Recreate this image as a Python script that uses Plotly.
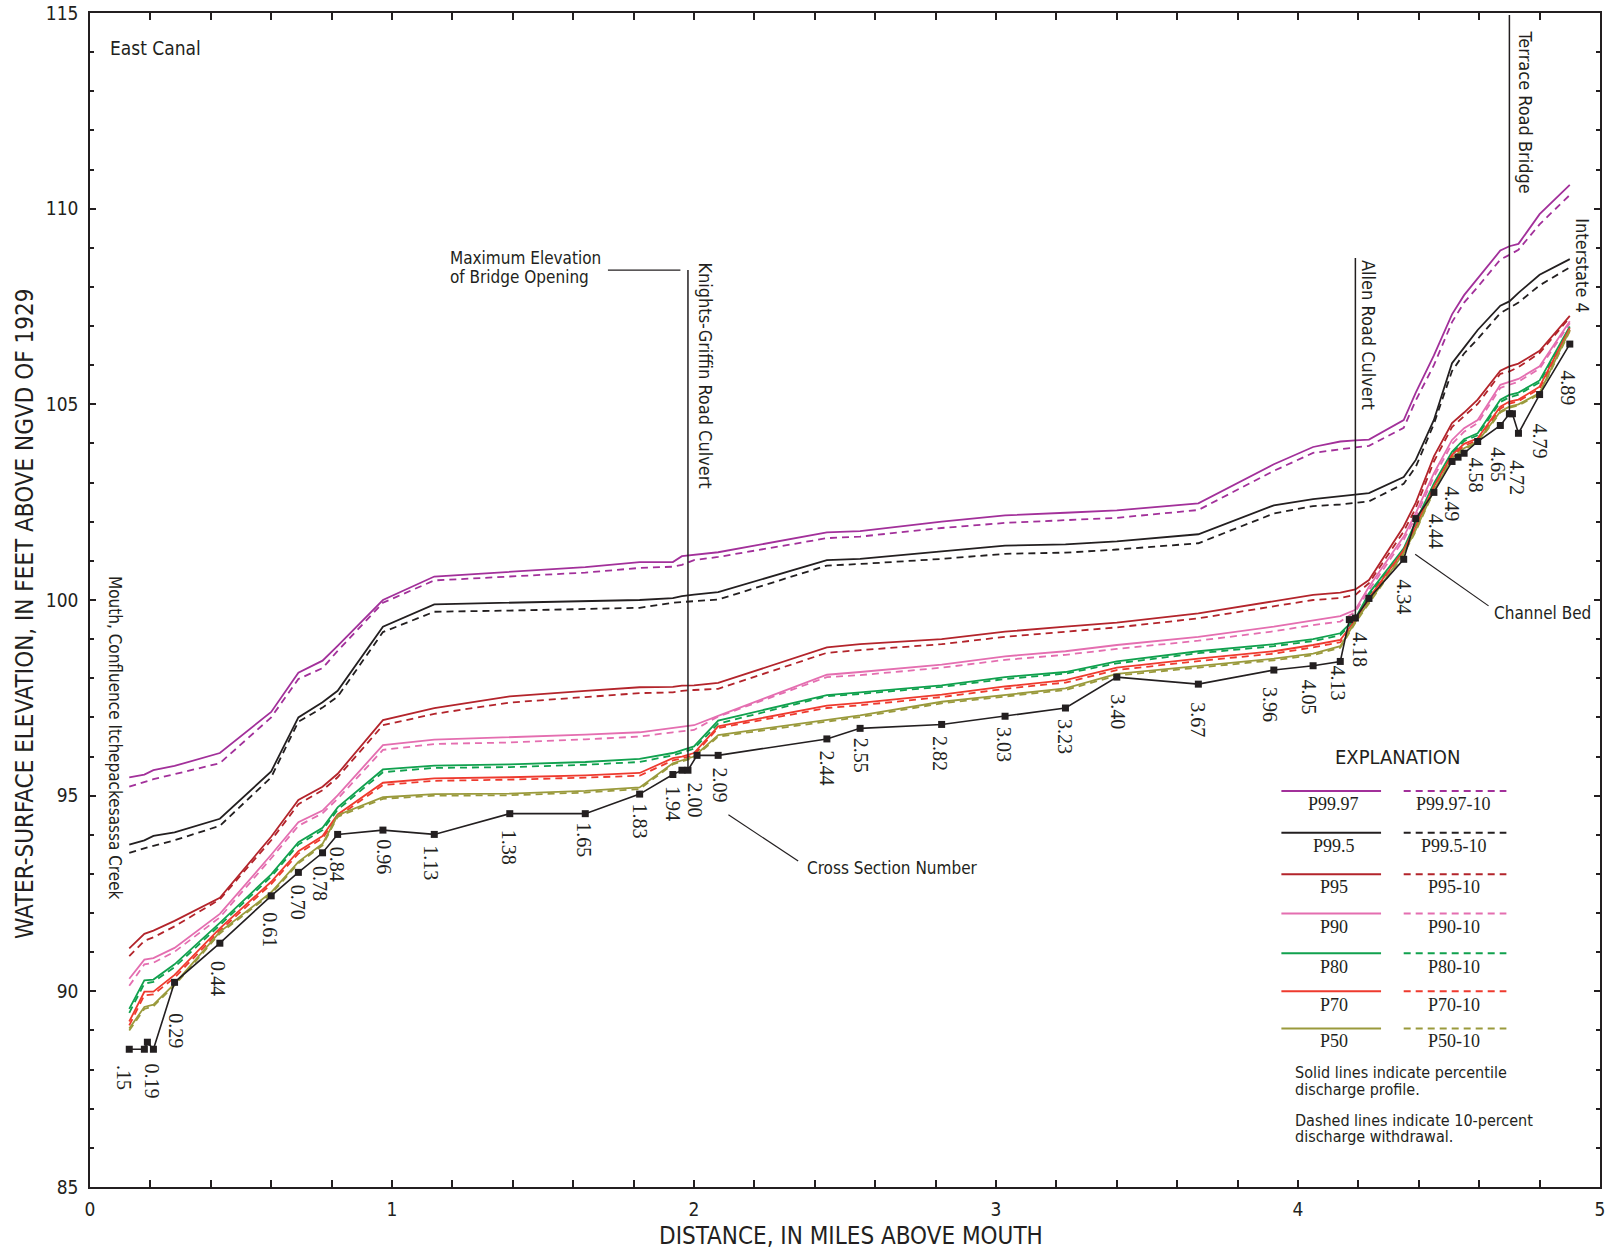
import plotly.graph_objects as go

# ---------------- data ----------------
X = [0.13, 0.18, 0.21, 0.28, 0.43, 0.60, 0.69, 0.77, 0.82, 0.97, 1.14, 1.39, 1.64, 1.82, 1.93, 1.96, 2.00,
     2.08, 2.44, 2.55, 2.82, 3.03, 3.23, 3.40, 3.67, 3.92, 4.05, 4.14, 4.19, 4.235, 4.35, 4.39, 4.45, 4.51,
     4.55, 4.595, 4.67, 4.70, 4.73, 4.80, 4.90]

P99_97 = [95.47, 95.54, 95.65, 95.76, 96.09, 97.14, 98.14, 98.45, 98.83, 100.0, 100.6, 100.72, 100.84, 100.97,
          100.97, 101.12, 101.15, 101.22, 101.73, 101.76, 102.0, 102.16, 102.23, 102.29, 102.47, 103.47, 103.91,
          104.05, 104.08, 104.1, 104.6, 105.3, 106.25, 107.3, 107.79, 108.21, 108.93, 109.04, 109.1, 109.86, 110.61]
P99_97_10 = [95.23, 95.34, 95.42, 95.55, 95.83, 97.0, 97.98, 98.26, 98.7, 99.93, 100.5, 100.6, 100.7, 100.82,
             100.85, 100.9, 101.02, 101.1, 101.58, 101.62, 101.84, 101.97, 102.03, 102.1, 102.3, 103.3, 103.76,
             103.86, 103.9, 103.94, 104.4, 105.1, 106.0, 107.1, 107.6, 108.0, 108.7, 108.82, 108.95, 109.6, 110.35]
P99_5 = [93.75, 93.86, 93.97, 94.06, 94.41, 95.62, 97.0, 97.39, 97.68, 99.32, 99.89, 99.93, 99.97, 100.0, 100.05,
         100.1, 100.14, 100.2, 101.02, 101.05, 101.24, 101.39, 101.42, 101.5, 101.68, 102.42, 102.58, 102.65,
         102.68, 102.73, 103.14, 103.58, 104.6, 106.05, 106.45, 106.9, 107.52, 107.63, 107.85, 108.31, 108.71]
P99_5_10 = [93.54, 93.66, 93.72, 93.86, 94.23, 95.47, 96.89, 97.25, 97.53, 99.18, 99.7, 99.73, 99.77, 99.8, 99.93,
            99.95, 99.97, 100.01, 100.88, 100.92, 101.05, 101.18, 101.21, 101.29, 101.45, 102.21, 102.4, 102.44,
            102.48, 102.52, 102.97, 103.4, 104.5, 105.85, 106.3, 106.67, 107.33, 107.46, 107.6, 108.04, 108.5]
P95 = [91.1, 91.47, 91.55, 91.8, 92.39, 93.95, 94.89, 95.23, 95.56, 96.93, 97.24, 97.54, 97.68, 97.77, 97.78,
       97.81, 97.82, 97.88, 98.79, 98.87, 99.0, 99.19, 99.32, 99.42, 99.66, 99.97, 100.13, 100.19, 100.27, 100.51,
       101.88, 102.49, 103.67, 104.52, 104.79, 105.12, 105.86, 105.97, 106.04, 106.37, 107.26]
P95_10 = [90.9, 91.29, 91.38, 91.66, 92.35, 93.86, 94.78, 95.14, 95.47, 96.8, 97.09, 97.38, 97.52, 97.62, 97.64,
          97.68, 97.7, 97.73, 98.65, 98.72, 98.87, 99.06, 99.19, 99.3, 99.53, 99.84, 100.0, 100.05, 100.13, 100.43,
          101.75, 102.35, 103.54, 104.42, 104.69, 105.01, 105.78, 105.84, 105.95, 106.31, 107.22]
P90 = [90.32, 90.81, 90.85, 91.11, 91.98, 93.49, 94.32, 94.62, 95.01, 96.29, 96.43, 96.49, 96.56, 96.62, 96.73,
       96.76, 96.8, 97.04, 98.09, 98.16, 98.35, 98.56, 98.69, 98.85, 99.06, 99.32, 99.48, 99.59, 99.75, 100.34,
       101.62, 102.22, 103.24, 104.09, 104.39, 104.6, 105.5, 105.58, 105.65, 105.97, 107.12]
P90_10 = [90.14, 90.69, 90.73, 91.01, 91.89, 93.4, 94.23, 94.55, 94.92, 96.17, 96.32, 96.36, 96.44, 96.51, 96.62,
          96.65, 96.68, 97.02, 98.03, 98.08, 98.27, 98.47, 98.6, 98.75, 98.96, 99.2, 99.36, 99.45, 99.7, 100.25,
          101.54, 102.12, 103.15, 103.99, 104.3, 104.52, 105.42, 105.5, 105.58, 105.91, 107.07]
P80 = [89.55, 90.28, 90.3, 90.69, 91.75, 92.99, 93.81, 94.18, 94.7, 95.67, 95.77, 95.8, 95.86, 95.94, 96.09,
       96.17, 96.26, 96.92, 97.57, 97.64, 97.82, 98.03, 98.16, 98.43, 98.69, 98.87, 99.0, 99.15, 99.53, 100.17,
       101.32, 102.0, 102.98, 103.79, 104.11, 104.26, 105.12, 105.24, 105.3, 105.61, 106.99]
P80_10 = [89.45, 90.2, 90.24, 90.62, 91.69, 92.93, 93.75, 94.12, 94.64, 95.6, 95.71, 95.73, 95.79, 95.86, 96.03,
          96.1, 96.2, 96.84, 97.54, 97.6, 97.78, 97.98, 98.12, 98.38, 98.64, 98.82, 98.95, 99.1, 99.5, 100.12,
          101.27, 101.95, 102.93, 103.74, 104.06, 104.21, 105.06, 105.18, 105.25, 105.56, 106.95]
P70 = [89.23, 89.99, 89.99, 90.42, 91.61, 92.8, 93.58, 93.97, 94.52, 95.33, 95.44, 95.47, 95.52, 95.58, 95.96,
       96.0, 96.09, 96.77, 97.3, 97.37, 97.58, 97.79, 97.95, 98.27, 98.5, 98.69, 98.85, 98.98, 99.49, 100.05,
       101.28, 101.88, 102.9, 103.71, 103.99, 104.13, 104.94, 105.07, 105.12, 105.45, 106.95]
P70_10 = [89.13, 89.9, 89.92, 90.35, 91.55, 92.74, 93.52, 93.91, 94.46, 95.27, 95.38, 95.41, 95.46, 95.51, 95.9,
          95.95, 96.04, 96.73, 97.24, 97.31, 97.52, 97.73, 97.89, 98.21, 98.44, 98.63, 98.79, 98.92, 99.45, 100.0,
          101.23, 101.83, 102.85, 103.66, 103.94, 104.08, 104.89, 105.02, 105.08, 105.4, 106.9]
P50 = [89.05, 89.6, 89.66, 90.19, 91.52, 92.53, 93.31, 93.77, 94.5, 94.96, 95.04, 95.05, 95.12, 95.21, 95.83,
       95.9, 96.0, 96.55, 96.92, 97.05, 97.4, 97.58, 97.74, 98.11, 98.32, 98.5, 98.63, 98.82, 99.45, 99.95,
       101.2, 101.79, 102.81, 103.62, 103.88, 104.05, 104.82, 104.94, 105.0, 105.29, 106.9]
P50_10 = [89.0, 89.55, 89.62, 90.15, 91.48, 92.49, 93.27, 93.73, 94.46, 94.92, 95.0, 95.01, 95.08, 95.17, 95.8,
          95.87, 95.97, 96.51, 96.88, 97.01, 97.36, 97.54, 97.7, 98.07, 98.28, 98.46, 98.59, 98.78, 99.42, 99.92,
          101.17, 101.76, 102.78, 103.59, 103.85, 104.02, 104.79, 104.91, 104.97, 105.26, 106.87]

BED_X = [0.13, 0.18, 0.19, 0.21, 0.28, 0.43, 0.60, 0.69, 0.77, 0.82, 0.97, 1.14, 1.39, 1.64, 1.82, 1.93, 1.96,
         1.98, 2.01, 2.08, 2.44, 2.55, 2.82, 3.03, 3.23, 3.40, 3.67, 3.92, 4.05, 4.14, 4.17, 4.19, 4.235, 4.35,
         4.39, 4.45, 4.51, 4.53, 4.55, 4.595, 4.67, 4.70, 4.71, 4.73, 4.80, 4.90]
BED_Y = [88.52, 88.52, 88.7, 88.52, 90.23, 91.23, 92.44, 93.04, 93.54, 94.01, 94.12, 94.01, 94.54, 94.54, 95.04,
         95.54, 95.65, 95.65, 96.03, 96.03, 96.45, 96.72, 96.82, 97.03, 97.24, 98.03, 97.85, 98.21, 98.32, 98.43,
         99.5, 99.54, 100.04, 101.04, 102.08, 102.75, 103.54, 103.65, 103.75, 104.05, 104.46, 104.76, 104.76,
         104.26, 105.25, 106.54]

SERIES_NAMES = ["P99.97", "P99.5", "P95", "P90", "P80", "P70", "P50"]
SOLID = [P99_97, P99_5, P95, P90, P80, P70, P50]
DASHED = [P99_97_10, P99_5_10, P95_10, P90_10, P80_10, P70_10, P50_10]

XS_TEXT = [".15", "0.19", "0.29", "0.44", "0.61", "0.70", "0.78", "0.84", "0.96", "1.13", "1.38", "1.65", "1.83",
           "1.94", "2.00", "2.09", "2.44", "2.55", "2.82", "3.03", "3.23", "3.40", "3.67", "3.96", "4.05", "4.13",
           "4.18", "4.34", "4.44", "4.49", "4.58", "4.65", "4.72", "4.79", "4.89"]

X_TICKS = [0, 1, 2, 3, 4, 5]
Y_TICKS = [85, 90, 95, 100, 105, 110, 115]

# ---------------- style ----------------
COLORS = ["#a2309a", "#231f20", "#b3242b", "#e46eb0", "#10a14e", "#ee3a2e", "#9a9a3c"]
INK = "#231f20"
SANS = "Liberation Sans Narrow, DejaVu Sans Condensed, Roboto, sans-serif"
SERIF = "Liberation Serif, DejaVu Serif, serif"
DASH = "7px,5px"

XS_POS = [(0.113, 87.81), (0.207, 87.71), (0.282, 89.0), (0.422, 90.33), (0.598, 91.57), (0.687, 92.28),
          (0.764, 92.75), (0.819, 93.25), (0.973, 93.43), (1.128, 93.28), (1.387, 93.67), (1.637, 93.88),
          (1.821, 94.34), (1.931, 94.81), (2.003, 94.88), (2.086, 95.26), (2.442, 95.71), (2.552, 96.03),
          (2.815, 96.09), (3.026, 96.3), (3.23, 96.51), (3.404, 97.16), (3.669, 96.95), (3.907, 97.32),
          (4.037, 97.53), (4.132, 97.87), (4.203, 98.74), (4.35, 100.08), (4.455, 101.76), (4.51, 102.47),
          (4.59, 103.2), (4.663, 103.47), (4.727, 103.13), (4.802, 104.07), (4.894, 105.41)]

fig = go.Figure()

for name, ys, c in zip(SERIES_NAMES, DASHED, COLORS):
    fig.add_trace(go.Scatter(x=X, y=ys, mode="lines", name=name + "-10", showlegend=False,
                             line=dict(color=c, width=1.8, dash=DASH)))
for name, ys, c in zip(SERIES_NAMES, SOLID, COLORS):
    fig.add_trace(go.Scatter(x=X, y=ys, mode="lines", name=name, showlegend=False,
                             line=dict(color=c, width=1.8)))

fig.add_trace(go.Scatter(x=BED_X, y=BED_Y, mode="lines+markers", name="Channel Bed", showlegend=False,
                         line=dict(color=INK, width=1.6),
                         marker=dict(symbol="square", size=7, color=INK)))

ann = []
shapes = []


def txt(x, y, s, size=18, angle=0, xa="center", ya="middle", family=SANS):
    ann.append(dict(x=x, y=y, xref="x", yref="y", text=s, showarrow=False, textangle=angle,
                    xanchor=xa, yanchor=ya, font=dict(family=family, size=size, color=INK)))


def seg(x0, y0, x1, y1, color=INK, width=1.5, dash=None):
    ln = dict(color=color, width=width)
    if dash:
        ln["dash"] = dash
    shapes.append(dict(type="line", xref="x", yref="y", x0=x0, y0=y0, x1=x1, y1=y1, line=ln))


# cross-section labels
for s, (x, y) in zip(XS_TEXT, XS_POS):
    txt(x, y, s, size=20, angle=90, family=SERIF)

# structures
seg(1.98, 108.43, 1.98, 95.65)
seg(1.715, 108.43, 1.955, 108.43, width=1.2)
txt(1.184, 108.75, "Maximum Elevation", size=17, xa="left")
txt(1.184, 108.25, "of Bridge Opening", size=17, xa="left")
txt(2.035, 105.75, "Knights-Griffin Road Culvert", size=18, angle=90)

seg(4.19, 108.74, 4.19, 99.53)
txt(4.234, 106.78, "Allen Road Culvert", size=18, angle=90)

seg(4.70, 114.95, 4.70, 104.76)
txt(4.752, 112.48, "Terrace Road Bridge", size=18, angle=90)
txt(4.942, 108.54, "Interstate 4", size=18, angle=90)

txt(0.082, 96.48, "Mouth, Confluence Itchepackesassa Creek", size=17, angle=90)
txt(0.06, 114.1, "East Canal", size=19, xa="left")

seg(2.114, 94.51, 2.345, 93.33, width=1.2)
txt(2.369, 93.15, "Cross Section Number", size=17, xa="left")
seg(4.388, 101.17, 4.631, 99.85, width=1.2)
txt(4.643, 99.66, "Channel Bed", size=17, xa="left")

# explanation box
txt(4.331, 96.0, "EXPLANATION", size=20)
ROW_LINE_Y = [95.12, 94.05, 92.99, 91.99, 90.97, 90.0, 89.05]
ROW_TEXT_Y = [94.79, 93.71, 92.67, 91.65, 90.62, 89.65, 88.73]
for name, c, ly, ty in zip(SERIES_NAMES, COLORS, ROW_LINE_Y, ROW_TEXT_Y):
    seg(3.945, ly, 4.275, ly, color=c, width=2)
    seg(4.35, ly, 4.69, ly, color=c, width=2, dash=DASH)
    txt(4.118, ty, name, size=18, family=SERIF)
    txt(4.515, ty, name + "-10", size=18, family=SERIF)
txt(3.982, 87.92, "Solid lines indicate percentile", size=16, xa="left")
txt(3.982, 87.50, "discharge profile.", size=16, xa="left")
txt(3.982, 86.71, "Dashed lines indicate 10-percent", size=16, xa="left")
txt(3.982, 86.29, "discharge withdrawal.", size=16, xa="left")

# axis titles
ann.append(dict(x=0.504, y=0, xref="paper", yref="paper", yshift=-49, text="DISTANCE, IN MILES ABOVE MOUTH",
                showarrow=False, xanchor="center", yanchor="middle", font=dict(family=SANS, size=24, color=INK)))
ann.append(dict(x=0, y=0.488, xref="paper", yref="paper", xshift=-65, text="WATER-SURFACE ELEVATION, IN FEET ABOVE NGVD OF 1929",
                showarrow=False, textangle=-90, xanchor="center", yanchor="middle",
                font=dict(family=SANS, size=24, color=INK)))

fig.update_layout(
    width=1611, height=1251,
    margin=dict(l=90, r=11, t=13, b=64, autoexpand=False),
    paper_bgcolor="white", plot_bgcolor="white",
    annotations=ann, shapes=shapes,
    xaxis=dict(range=[0, 5], tickvals=X_TICKS, ticktext=[str(v) for v in X_TICKS], automargin=False,
               ticks="inside", ticklen=7, tickwidth=1.5, tickcolor=INK,
               minor=dict(dtick=0.2, ticks="inside", ticklen=7, tickwidth=1.5, tickcolor=INK, showgrid=False),
               showline=True, linecolor=INK, linewidth=1.5, mirror="allticks",
               showgrid=False, zeroline=False, ticklabelstandoff=4,
               tickfont=dict(family=SANS, size=19, color=INK)),
    yaxis=dict(range=[85, 115], tickvals=Y_TICKS, ticktext=[str(v) for v in Y_TICKS], automargin=False,
               ticks="inside", ticklen=6, tickwidth=1.5, tickcolor=INK,
               minor=dict(dtick=1, ticks="inside", ticklen=4, tickwidth=1.5, tickcolor=INK, showgrid=False),
               showline=True, linecolor=INK, linewidth=1.5, mirror="allticks",
               showgrid=False, zeroline=False, ticklabelstandoff=6,
               tickfont=dict(family=SANS, size=19, color=INK)),
)

fig.write_html("out.html")
